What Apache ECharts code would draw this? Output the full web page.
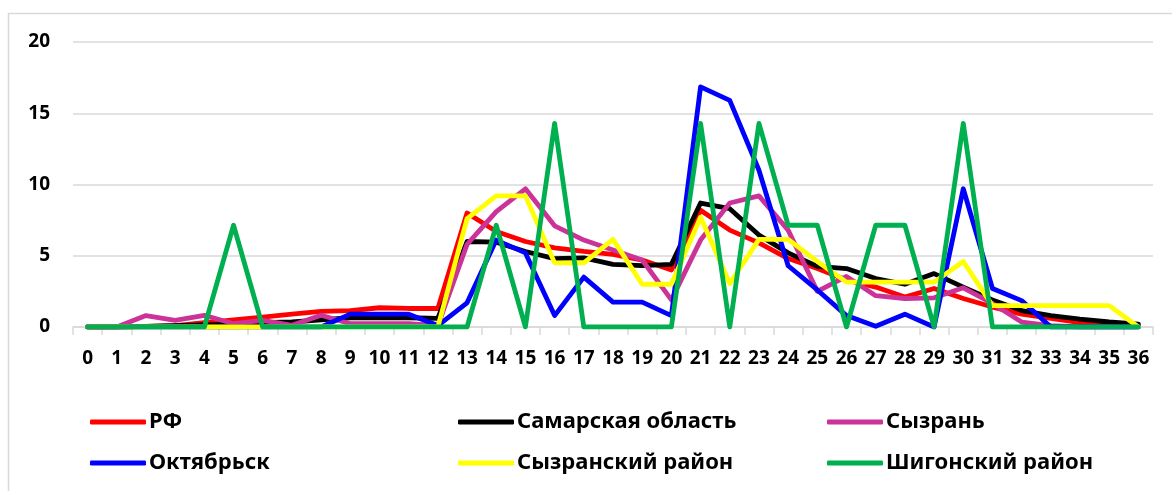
<!DOCTYPE html>
<html lang="ru">
<head>
    <meta charset="UTF-8">
    <title>Chart</title>
    <style>
        html,body{
            margin: 0;
            padding: 0;
            background: #fff;
        }
        #main{
            width: 1172px;
            height: 491px;
        }
    </style>
</head>
<body>
<div id="main"></div>
<script src="https://cdn.jsdelivr.net/npm/echarts@6/dist/echarts.min.js"></script>
<script>
    // категории по оси X
    var categories = ['0','1','2','3','4','5','6','7','8','9','10','11','12','13','14','15','16','17','18',
        '19','20','21','22','23','24','25','26','27','28','29','30','31','32','33','34','35','36'];

    var rf = [0, 0, 0.05, 0.1, 0.3, 0.5, 0.7, 0.9, 1.1, 1.15, 1.35, 1.3, 1.3,
        8.0, 6.7, 6.0, 5.55, 5.3, 5.1, 4.7, 4.0,
        8.2, 6.8, 5.9, 4.8, 4.1, 3.3, 2.8, 2.1, 2.7, 2.0, 1.4, 0.9, 0.6, 0.3, 0.15, 0.05];
    var samara = [0, 0, 0.05, 0.1, 0.15, 0.2, 0.3, 0.35, 0.5, 0.65, 0.65, 0.65, 0.6,
        6.0, 5.95, 5.3, 4.8, 4.85, 4.4, 4.3, 4.4,
        8.7, 8.3, 6.45, 5.2, 4.25, 4.1, 3.4, 3.0, 3.75, 2.8, 1.9, 1.15, 0.8, 0.55, 0.35, 0.2];
    var syzran = [0, 0, 0.8, 0.47, 0.82, 0.23, 0.47, 0.12, 0.82, 0.23, 0.23, 0.23, 0.1,
        5.8, 8.1, 9.7, 7.1, 6.1, 5.4, 4.7, 1.9,
        6.1, 8.7, 9.2, 6.8, 2.5, 3.55, 2.2, 2.0, 2.05, 2.75, 1.65, 0.35, 0.1, 0, 0, 0];
    var oktyabrsk = [0, 0, 0, 0, 0, 0, 0, 0, 0, 0.9, 0.9, 0.9, 0.1,
        1.7, 6.1, 5.2, 0.8, 3.5, 1.75, 1.75, 0.8,
        16.85, 15.9, 11.0, 4.3, 2.6, 0.8, 0.05, 0.9, 0, 9.7, 2.7, 1.85, 0, 0, 0, 0];
    var syzranDistrict = [0, 0, 0, 0, 0, 0, 0, 0, 0, 0, 0, 0, 0,
        7.6, 9.2, 9.2, 4.5, 4.5, 6.15, 3.0, 3.0,
        7.7, 3.05, 6.15, 6.15, 4.6, 3.15, 3.15, 3.15, 3.15, 4.6, 1.5, 1.5, 1.5, 1.5, 1.5, 0];
    var shigon = [0, 0, 0, 0, 0, 7.14, 0, 0, 0, 0, 0, 0, 0,
        0, 7.14, 0, 14.29, 0, 0, 0, 0,
        14.29, 0, 14.29, 7.14, 7.14, 0, 7.14, 7.14, 0, 14.29, 0, 0, 0, 0, 0, 0];

    var yTicks = [0, 5, 10, 15, 20];

    var names = ['РФ', 'Самарская область', 'Сызрань', 'Октябрьск', 'Сызранский район', 'Шигонский район'];
    var colors = ['#ff0000', '#000000', '#cc3399', '#0000ff', '#ffff00', '#00b050'];
    var values = [rf, samara, syzran, oktyabrsk, syzranDistrict, shigon];

    var font = '"Noto Sans", "DejaVu Sans", sans-serif';

    function makeLegend(left, items) {
        return {
            orient: 'vertical',
            left: left,
            top: 411,
            padding: 0,
            icon: 'roundRect',
            itemWidth: 56,
            itemHeight: 5,
            itemGap: 19,
            data: items,
            textStyle: {
                color: '#000',
                fontSize: 22,
                lineHeight: 22,
                fontWeight: 'bold',
                fontFamily: font,
                padding: [0, 0, 0, -2]
            }
        };
    }

    var chart = echarts.init(document.getElementById('main'));
    var option = {
        animation: false,
        backgroundColor: '#fff',
        graphic: [{
            type: 'rect',
            silent: true,
            shape: {x: 8.5, y: 13.5, width: 1300, height: 600},
            style: {fill: 'none', stroke: '#d9d9d9', lineWidth: 1.5}
        }],
        grid: {
            left: 73,
            right: 19,
            top: 42,
            bottom: 164
        },
        legend: [
            makeLegend(90, [names[0], names[3]]),
            makeLegend(458, [names[1], names[4]]),
            makeLegend(827, [names[2], names[5]])
        ],
        xAxis: {
            type: 'category',
            data: categories,
            boundaryGap: true,
            axisLine: {lineStyle: {color: '#d9d9d9', width: 1.5}},
            axisTick: {show: true, length: 8, alignWithLabel: false, lineStyle: {color: '#d9d9d9', width: 1.5}},
            axisLabel: {
                interval: 0,
                margin: 22,
                color: '#000',
                fontSize: 19,
                fontWeight: 'bold',
                fontFamily: font
            }
        },
        yAxis: {
            type: 'value',
            min: yTicks[0],
            max: yTicks[yTicks.length - 1],
            interval: 5,
            axisLine: {show: false},
            axisTick: {show: false},
            splitLine: {lineStyle: {color: '#d9d9d9', width: 1.5}},
            axisLabel: {
                margin: 23,
                color: '#000',
                fontSize: 19,
                fontWeight: 'bold',
                fontFamily: font
            }
        },
        series: names.map(function (name, i) {
            return {
                name: name,
                type: 'line',
                data: values[i],
                symbol: 'none',
                smooth: false,
                color: colors[i],
                lineStyle: {color: colors[i], width: 4.8, join: 'round', cap: 'round'}
            };
        })
    };
    chart.setOption(option);
</script>
</body>
</html>
